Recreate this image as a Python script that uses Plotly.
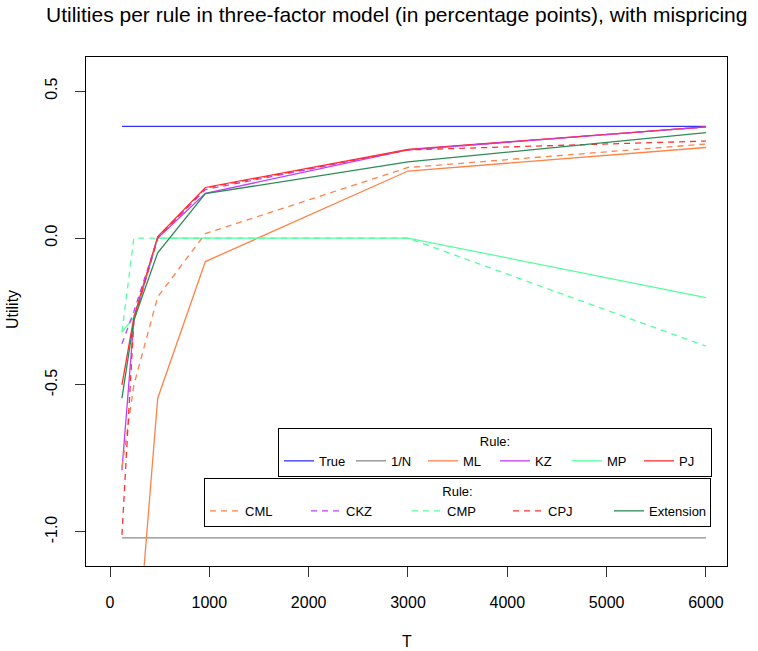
import plotly.graph_objects as go

T = [120, 240, 480, 960, 3000, 6000]

true_u = [0.38, 0.38, 0.38, 0.38, 0.38, 0.38]
one_n = [-1.02, -1.02, -1.02, -1.02, -1.02, -1.02]
ml = [-3.0, -1.55, -0.545, -0.08, 0.228, 0.308]
kz = [-0.79, -0.28, 0.0, 0.152, 0.30, 0.378]
mp = [-0.32, -0.27, 0.0, 0.0, 0.0, -0.203]
pj = [-0.50, -0.27, 0.005, 0.172, 0.302, 0.378]
cml = [-0.78, -0.50, -0.20, 0.015, 0.24, 0.32]
ckz = [-0.36, -0.25, 0.0, 0.165, 0.30, 0.378]
cmp_ = [-0.32, 0.0, 0.0, 0.0, 0.0, -0.368]
cpj = [-1.01, -0.28, 0.0, 0.17, 0.30, 0.33]
ext = [-0.545, -0.28, -0.05, 0.151, 0.259, 0.359]

x_ticks = [0, 1000, 2000, 3000, 4000, 5000, 6000]
y_ticks = [-1.0, -0.5, 0.0, 0.5]
y_tick_labels = ["-1.0", "-0.5", "0.0", "0.5"]

series = [
    ("True", true_u, "#3333ff", "solid", "legend"),
    ("1/N", one_n, "#8a8a8a", "solid", "legend"),
    ("ML", ml, "#ff8247", "solid", "legend"),
    ("KZ", kz, "#bf3eff", "solid", "legend"),
    ("MP", mp, "#54ff9f", "solid", "legend"),
    ("PJ", pj, "#ff3030", "solid", "legend"),
    ("CML", cml, "#ff8247", "6px,5px", "legend2"),
    ("CKZ", ckz, "#bf3eff", "6px,5px", "legend2"),
    ("CMP", cmp_, "#54ff9f", "6px,5px", "legend2"),
    ("CPJ", cpj, "#ff3030", "6px,5px", "legend2"),
    ("Extension", ext, "#2e8b57", "solid", "legend2"),
]

fig = go.Figure()
for name, vals, color, dash, leg in series:
    fig.add_trace(go.Scatter(
        x=T, y=vals, mode="lines", name=name,
        line=dict(color=color, width=1.3, dash=dash),
        legend=leg,
    ))

FONT = "Liberation Sans, Arial, Helvetica, sans-serif"

fig.update_layout(
    width=758, height=651,
    margin=dict(l=86, r=31, t=57, b=85),
    paper_bgcolor="white", plot_bgcolor="white",
    font=dict(family=FONT, color="black", size=16),
    title=dict(
        text="Utilities per rule in three-factor model (in percentage points), with mispricing",
        x=46 / 758, xref="container", xanchor="left",
        y=1 - 15 / 651, yref="container", yanchor="middle",
        font=dict(size=21, family=FONT, color="black"),
    ),
    xaxis=dict(
        range=[-242, 6212], tickvals=x_ticks, ticktext=[str(v) for v in x_ticks],
        showgrid=False, zeroline=False, showline=True, mirror=True,
        linecolor="black", linewidth=1, ticks="outside", ticklen=10,
        tickcolor="#333", tickwidth=1, ticklabelstandoff=12,
        tickfont=dict(size=16),
    ),
    yaxis=dict(
        range=[-1.116, 0.616], tickvals=y_ticks, ticktext=y_tick_labels,
        showgrid=False, zeroline=False, showline=True, mirror=True,
        linecolor="black", linewidth=1, ticks="outside", ticklen=10,
        tickcolor="#333", tickwidth=1, tickangle=-90, ticklabelstandoff=12,
        tickfont=dict(size=16),
    ),
    legend=dict(
        orientation="h", x=(278 - 86) / 641, xanchor="left",
        y=(566 - 428) / 509, yanchor="top",
        bordercolor="black", borderwidth=1, bgcolor="white",
        title=dict(text="Rule:", side="top center", font=dict(size=13)),
        font=dict(size=13), entrywidth=27, entrywidthmode="pixels",
        itemwidth=30, tracegroupgap=0,
    ),
    legend2=dict(
        orientation="h", x=(204 - 86) / 641, xanchor="left",
        y=(566 - 478) / 509, yanchor="top",
        bordercolor="black", borderwidth=1, bgcolor="white",
        title=dict(text="Rule:", side="top center", font=dict(size=13)),
        font=dict(size=13), entrywidth=56, entrywidthmode="pixels",
        itemwidth=30, tracegroupgap=0,
    ),
    annotations=[
        dict(text="Utility", xref="paper", yref="paper", x=(12 - 86) / 641,
             y=(566 - 310) / 509, textangle=-90, showarrow=False,
             font=dict(size=16), xanchor="center", yanchor="middle"),
        dict(text="T", xref="paper", yref="paper", x=(407 - 86) / 641,
             y=(566 - 641) / 509, showarrow=False,
             font=dict(size=16), xanchor="center", yanchor="middle"),
    ],
    showlegend=True,
)

fig.write_html("out.html")
